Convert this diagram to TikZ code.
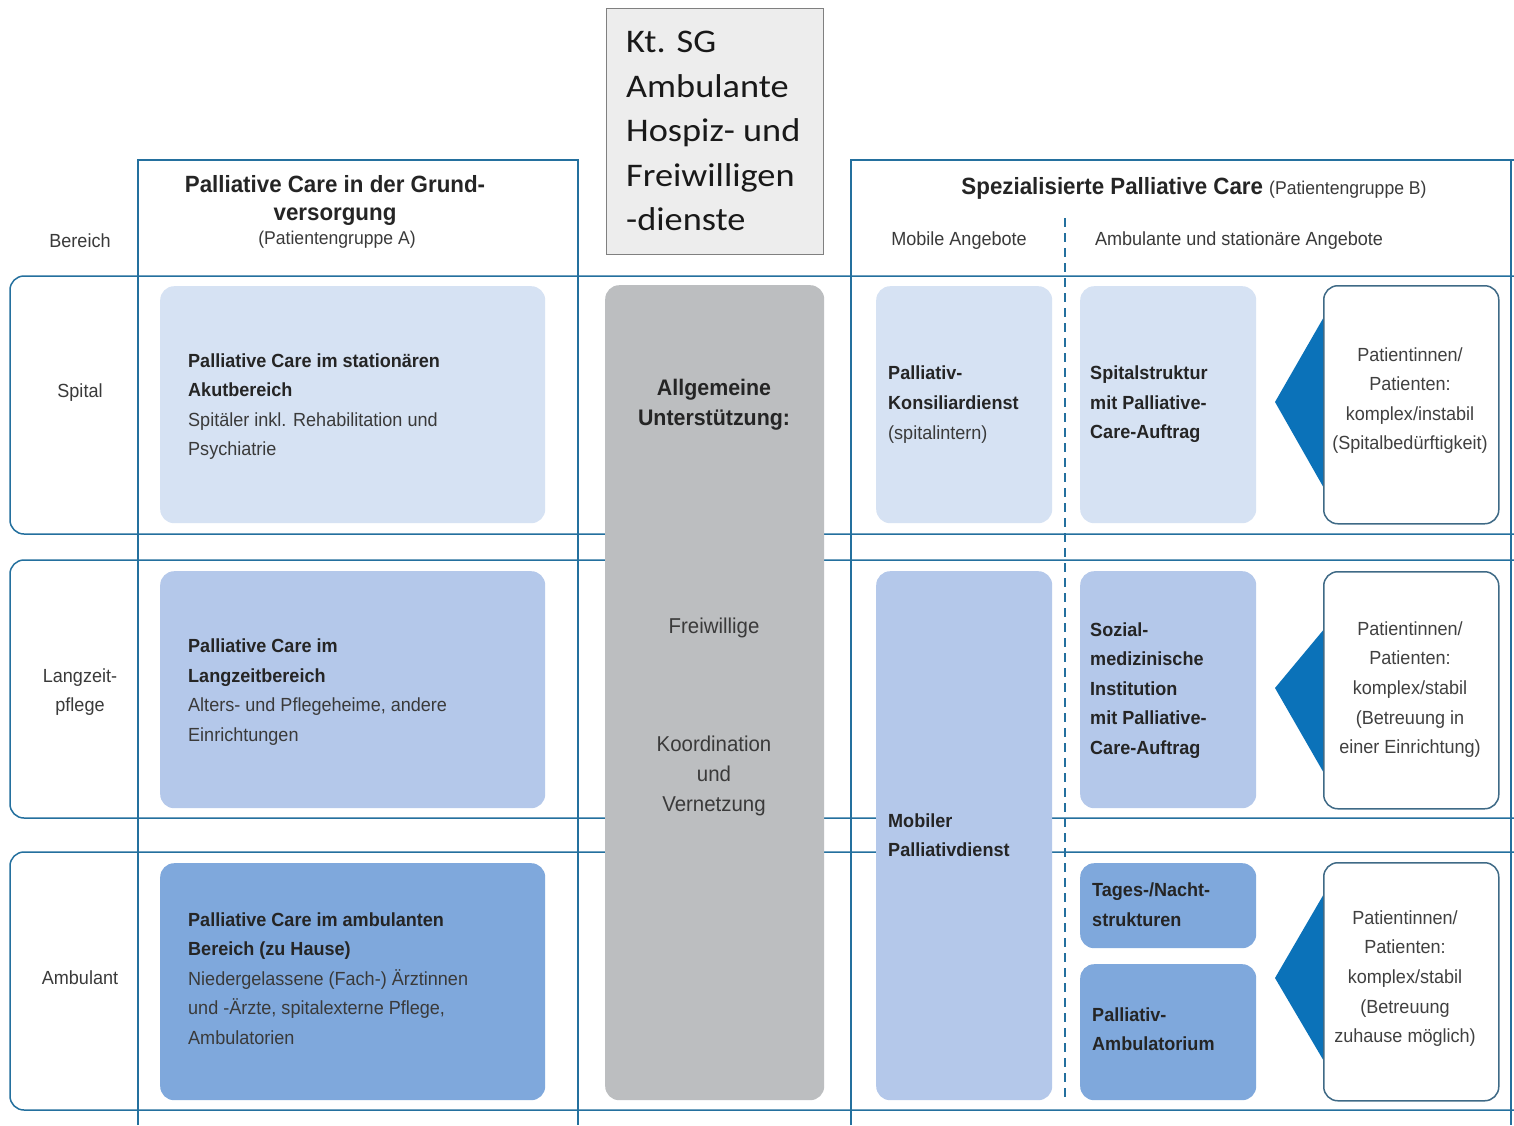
\documentclass[tikz,border=0pt]{standalone}
\usepackage{fontspec}
\setmainfont{Liberation Sans}[FakeStretch=0.95]
\newfontfamily\calib{Carlito}[FakeStretch=1.1]
\definecolor{lineC}{HTML}{24709E}
\definecolor{cA}{HTML}{D6E2F3}
\definecolor{cB}{HTML}{B4C8EA}
\definecolor{cC}{HTML}{7FA8DC}
\definecolor{greyC}{HTML}{BCBEC0}
\definecolor{triC}{HTML}{0B72B9}
\definecolor{txtC}{HTML}{3A3A3A}
\definecolor{boldC}{HTML}{252525}
\definecolor{patC}{HTML}{3F6A86}
\begin{document}
\begin{tikzpicture}[x=1pt,y=-1pt,
  frame/.style={draw=lineC, line width=1.5pt},
  tile/.style={rectangle, rounded corners=14pt, anchor=north west, inner sep=0pt, draw=none},
  patbox/.style={tile, fill=white, draw=patC, line width=1.5pt},
  tri/.style={fill=triC, draw=none},
  body/.style={font=\fontsize{19}{29.6}\selectfont, text=txtC, align=left, anchor=west, inner sep=0pt},
  bbody/.style={body, font=\fontsize{19}{29.6}\selectfont\bfseries, text=boldC},
  cbody/.style={body, align=center, anchor=center},
  patt/.style={cbody, text=black!75},
  head/.style={font=\fontsize{23.5}{28}\selectfont\bfseries, text=boldC, align=center, inner sep=0pt},
]
\useasboundingbox (0,0) rectangle (1514,1125);
\fill[white] (0,0) rectangle (1514,1125);

% row frames
\draw[frame, rounded corners=14pt] (1514,276) -- (10,276) -- (10,534) -- (1514,534);
\draw[frame, rounded corners=14pt] (1514,560) -- (10,560) -- (10,818) -- (1514,818);
\draw[frame, rounded corners=14pt] (1514,852) -- (10,852) -- (10,1110) -- (1514,1110);
% column frames
\draw[frame] (138,1125) -- (138,160) -- (578,160) -- (578,1125);
\draw[frame] (851,1125) -- (851,160) -- (1514,160);
\draw[frame] (1511,160) -- (1511,1125);
\draw[draw=lineC, line width=1.5pt, dash pattern=on 9pt off 6pt] (1065,218) -- (1065,1100);

% top box
\node[rectangle, anchor=north west, minimum width=217pt, minimum height=246pt, fill=black!7, draw=black!50, line width=1.2pt] (kt) at (606,8) {};
\node[font=\calib\fontsize{33}{44.5}\selectfont, text=black!90, align=left, anchor=west, inner sep=0pt] (kttext) at (626,131)
  {Kt. SG\\Ambulante\\Hospiz- und\\Freiwilligen\\-dienste};

% headers
\node[head] (hA) at (335,200) {Palliative Care in der Grund-\\versorgung};
\node[body, anchor=center, font=\fontsize{18.5}{22}\selectfont] (hAs) at (337,240) {(Patientengruppe A)};
\node[inner sep=0pt, text=boldC] (hB) at (1194,188) {{\fontsize{23.5}{28}\selectfont\bfseries Spezialisierte Palliative Care\ }{\fontsize{18.5}{22}\selectfont\color{txtC}(Patientengruppe B)}};
\node[cbody] (mobA) at (959,241) {Mobile Angebote};
\node[cbody] (ambA) at (1239,241) {Ambulante und stationäre Angebote};

% row labels
\node[cbody] (bereich) at (80,241) {Bereich};
\node[cbody] (spital) at (80,393) {Spital};
\node[cbody] (langzeit) at (80,692) {Langzeit-\\pflege};
\node[cbody] (ambulant) at (80,978) {Ambulant};

% left column tiles
\node[tile, fill=cA, minimum width=385pt, minimum height=237pt] (L1) at (160,286) {};
\node[tile, fill=cB, minimum width=385pt, minimum height=237pt] (L2) at (160,571) {};
\node[tile, fill=cC, minimum width=385pt, minimum height=237pt] (L3) at (160,863) {};
\node[body] (L1t) at (188,406.5) {\textbf{\color{boldC}Palliative Care im stationären}\\\textbf{\color{boldC}Akutbereich}\\Spitäler inkl. Rehabilitation und\\Psychiatrie};
\node[body] (L2t) at (188,692) {\textbf{\color{boldC}Palliative Care im}\\\textbf{\color{boldC}Langzeitbereich}\\Alters- und Pflegeheime, andere\\Einrichtungen};
\node[body] (L3t) at (188,978.5) {\textbf{\color{boldC}Palliative Care im ambulanten}\\\textbf{\color{boldC}Bereich (zu Hause)}\\Niedergelassene (Fach-) Ärztinnen\\und -Ärzte, spitalexterne Pflege,\\Ambulatorien};

% grey middle tile
\node[tile, fill=greyC, minimum width=219pt, minimum height=815pt] (G) at (605,285) {};
\node[head, font=\fontsize{22.5}{30}\selectfont\bfseries] (Gt1) at (714,405) {Allgemeine\\Unterstützung:};
\node[cbody, font=\fontsize{21.5}{30}\selectfont] (Gt2) at (714,628) {Freiwillige};
\node[cbody, font=\fontsize{21.5}{30}\selectfont] (Gt3) at (714,776) {Koordination\\und\\Vernetzung};

% mobile column
\node[tile, fill=cA, minimum width=176pt, minimum height=237pt] (M1) at (876,286) {};
\node[tile, fill=cB, minimum width=176pt, minimum height=529pt] (M2) at (876,571) {};
\node[body] (M1t) at (888,404.5) {\textbf{\color{boldC}Palliativ-}\\\textbf{\color{boldC}Konsiliardienst}\\(spitalintern)};
\node[bbody] (M2t) at (888,835) {Mobiler\\Palliativdienst};

% ambulant/stationary column
\node[tile, fill=cA, minimum width=176pt, minimum height=237pt] (A1) at (1080,286) {};
\node[tile, fill=cB, minimum width=176pt, minimum height=237pt] (A2) at (1080,571) {};
\node[tile, fill=cC, minimum width=176pt, minimum height=85pt] (A3) at (1080,863) {};
\node[tile, fill=cC, minimum width=176pt, minimum height=136pt] (A4) at (1080,964) {};
\node[bbody] (A1t) at (1090,404.5) {Spitalstruktur\\mit Palliative-\\Care-Auftrag};
\node[bbody] (A2t) at (1090,690.5) {Sozial-\\medizinische\\Institution\\mit Palliative-\\Care-Auftrag};
\node[bbody] (A3t) at (1092,904.5) {Tages-/Nacht-\\strukturen};
\node[bbody] (A4t) at (1092,1029) {Palliativ-\\Ambulatorium};

% triangles
\fill[tri] (1275,402) -- (1325,315) -- (1325,490) -- cycle;
\fill[tri] (1275,688) -- (1325,628) -- (1325,775) -- cycle;
\fill[tri] (1275,978) -- (1325,892) -- (1325,1063) -- cycle;

% patient boxes
\node[patbox, minimum width=175pt, minimum height=238pt] (P1) at (1323,285) {};
\node[patbox, minimum width=175pt, minimum height=237pt] (P2) at (1323,571) {};
\node[patbox, minimum width=175pt, minimum height=238pt] (P3) at (1323,862) {};
\node[patt] (P1t) at (1410,400.5) {Patientinnen/\\Patienten:\\komplex/instabil\\(Spitalbedürftigkeit)};
\node[patt] (P2t) at (1410,689.5) {Patientinnen/\\Patienten:\\komplex/stabil\\(Betreuung in\\einer Einrichtung)};
\node[patt] (P3t) at (1405,978.5) {Patientinnen/\\Patienten:\\komplex/stabil\\(Betreuung\\zuhause möglich)};
\end{tikzpicture}
\end{document}
